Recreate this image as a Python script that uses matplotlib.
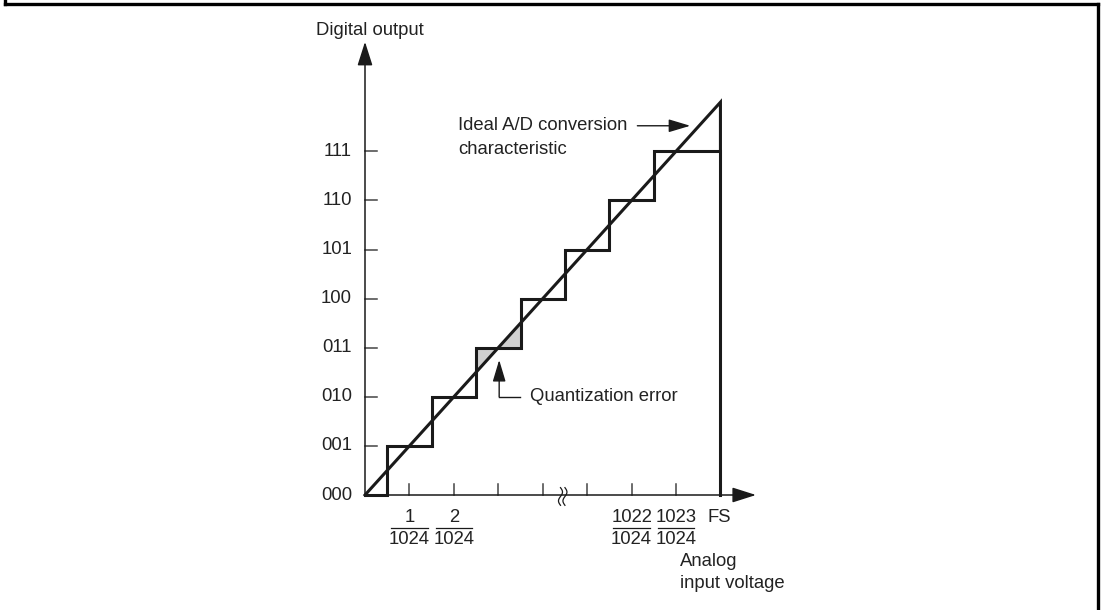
import numpy as np
import matplotlib
matplotlib.use("Agg")
import matplotlib.pyplot as plt
from matplotlib.lines import Line2D

plt.rcParams['font.family'] = ['Liberation Sans', 'DejaVu Sans']
plt.rcParams['font.size'] = 13.3
plt.rcParams['text.color'] = '#222222'

# datos del grafico
codigos = ['000', '001', '010', '011', '100', '101', '110', '111']
niveles = list(range(8))
transiciones = [0.5, 1.5, 2.5, 3.5, 4.5, 5.5, 6.5]
fs = 8
x_ticks = [1, 2, 3, 4, 5, 6, 7]
fracciones = [(1, '1', '1024'), (2, '2', '1024'), (6, '1022', '1024'), (7, '1023', '1024')]
nivel_error = 3
x_corte = 4.45

W, H = 1104, 610
fig = plt.figure(figsize=(W / 100, H / 100), dpi=100)
ax = fig.add_axes([0, 0, 1, 1])
# escala: origen en (365, 495) px, 44.43 px por paso en x, 49.1 px por nivel en y
ox, oy = 365, 495
ux, uy = 44.43, 49.1
ax.set_xlim(-ox / ux, (W - ox) / ux)
ax.set_ylim(-(H - oy) / uy, oy / uy)
ax.axis('off')

gris = '#444444'
negro = '#1a1a1a'

# marco
for xs, ys in [([5, 5], [0, 4]), ([5, 1098], [4, 4]), ([1098, 1098], [4, H])]:
    fig.add_artist(Line2D([x / W for x in xs], [1 - y / H for y in ys], color='black', lw=2.4))

# ejes con flechas
ax.annotate('', xy=(8.8, 0), xytext=(0, 0),
            arrowprops=dict(arrowstyle='-|>,head_length=1.1,head_width=0.35', color=negro, lw=1.1, shrinkA=0, shrinkB=0))
ax.annotate('', xy=(0, 9.23), xytext=(0, 0),
            arrowprops=dict(arrowstyle='-|>,head_length=1.1,head_width=0.35', color=negro, lw=1.1, shrinkA=0, shrinkB=0))

# marcas de los ejes
for t in x_ticks:
    ax.plot([t, t], [0, 0.22], color=gris, lw=1.1)
for n in niveles[1:]:
    ax.plot([0, 0.27], [n, n], color=gris, lw=1.1)
for n, c in zip(niveles, codigos):
    ax.text(-0.29, n, c, ha='right', va='center')

# corte del eje x
s = np.linspace(-1, 1, 40)
for dx in [-0.05, 0.05]:
    ax.plot(x_corte + dx + 0.045 * np.sin(np.pi * s), s * 0.18 - 0.03, color=negro, lw=0.9)

# error de cuantizacion sombreado
xe = np.linspace(nivel_error - 0.5, nivel_error + 0.5, 50)
ax.fill_between(xe, xe, nivel_error, color='#d0d0d0', lw=0)

# escalera
xs = [0]
ys = [0]
for t, n in zip(transiciones, niveles[1:]):
    xs += [t, t]
    ys += [n - 1, n]
xs += [fs, fs]
ys += [niveles[-1], 0]
ax.plot(xs, ys, color=negro, lw=2.2, solid_joinstyle='miter')

# caracteristica ideal
ax.plot([0, fs, fs], [0, fs, niveles[-1]], color=negro, lw=2.2, solid_joinstyle='miter')

# textos
ax.text(0.1, 9.47, 'Digital output', ha='center', va='center')
ax.text(2.09, 7.52, 'Ideal A/D conversion', ha='left', va='center')
ax.text(2.09, 7.03, 'characteristic', ha='left', va='center')
ax.annotate('', xy=(7.32, 7.52), xytext=(6.13, 7.52),
            arrowprops=dict(arrowstyle='-|>,head_length=1.0,head_width=0.3', color=negro, lw=1.0, shrinkA=0, shrinkB=0))

ax.plot([3.49, 3.02], [2.0, 2.0], color=negro, lw=1.0)
ax.annotate('', xy=(3.02, 2.75), xytext=(3.02, 2.0),
            arrowprops=dict(arrowstyle='-|>,head_length=1.0,head_width=0.3', color=negro, lw=1.0, shrinkA=0, shrinkB=0))
ax.text(3.72, 2.0, 'Quantization error', ha='left', va='center')

for xp, num, den in fracciones:
    ax.text(xp, -0.45, num, ha='center', va='center')
    ax.plot([xp - 0.41, xp + 0.41], [-0.67, -0.67], color=negro, lw=0.9)
    ax.text(xp, -0.90, den, ha='center', va='center')
ax.text(7.97, -0.45, 'FS', ha='center', va='center')
ax.text(7.09, -1.36, 'Analog', ha='left', va='center')
ax.text(7.09, -1.81, 'input voltage', ha='left', va='center')

fig.savefig('out.png', dpi=100)
